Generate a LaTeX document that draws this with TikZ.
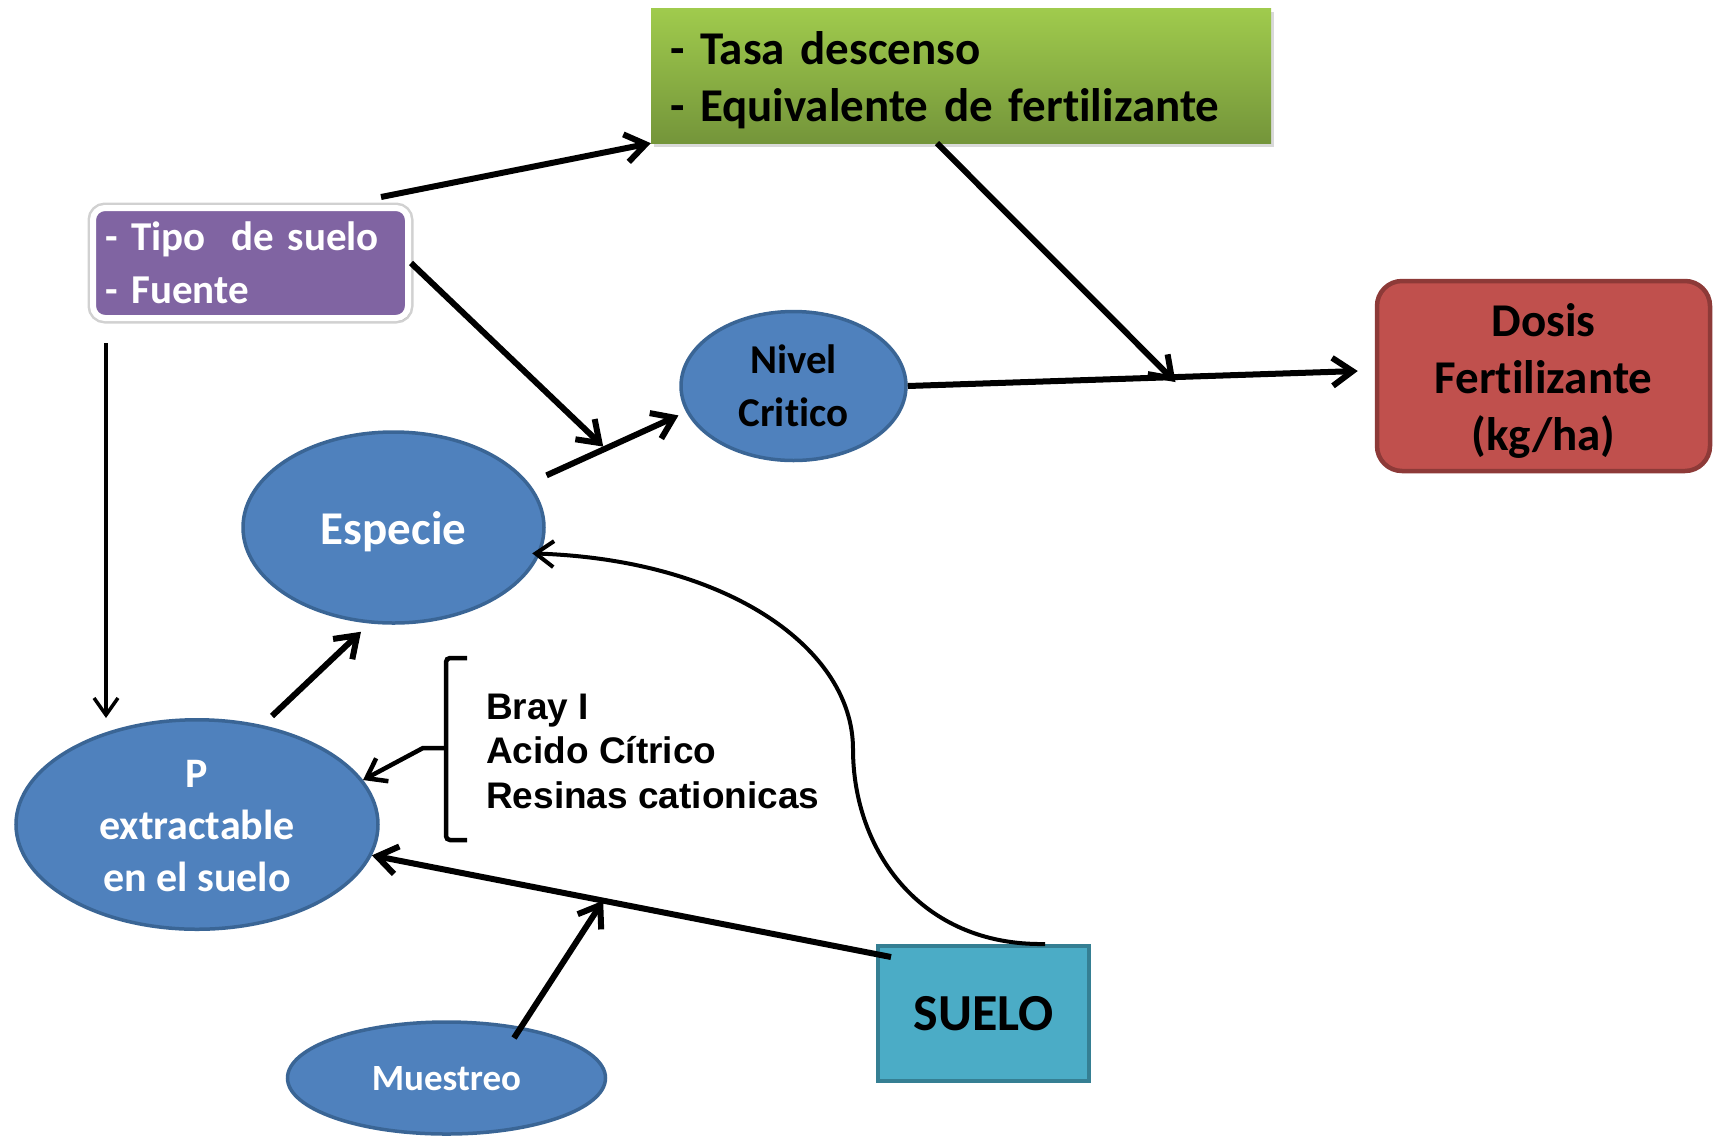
\documentclass[tikz,border=0pt]{standalone}
\usepackage{fontspec}
\setmainfont{Carlito}[RawFeature={-liga}]
\newfontfamily\arialfont{Liberation Sans}
\usetikzlibrary{arrows.meta,shapes.geometric,shadows,calc}

\definecolor{gtop}{HTML}{A0CB4D}
\definecolor{gbot}{HTML}{74953A}
\definecolor{purp}{HTML}{8064A2}
\definecolor{ellfill}{HTML}{4F81BD}
\definecolor{elldraw}{HTML}{3A6595}
\definecolor{suelofill}{HTML}{4BACC6}
\definecolor{suelodraw}{HTML}{357F93}
\definecolor{dosisfill}{HTML}{C0504D}
\definecolor{dosisdraw}{HTML}{8D3A38}

\begin{document}
\begin{tikzpicture}[x=1pt,y=-1pt,
  conn/.style={line width=6pt,-{Straight Barb[length=20pt,width=28pt]}},
  thinconn/.style={line width=3.5pt,-{Straight Barb[length=17pt,width=24pt]}},
  curveconn/.style={line width=4pt,-{Straight Barb[length=18pt,width=26pt]}},
  ell/.style={ellipse,fill=ellfill,draw=elldraw,line width=3.5pt,inner sep=0pt,align=center},
  softshadow/.style={drop shadow={opacity=0.3,shadow xshift=3pt,shadow yshift=-4pt}},
 ]
\useasboundingbox (0,0) rectangle (1715,1136);

% nodes
\node[minimum width=620pt, minimum height=135pt, text width=582pt,
      inner xsep=19pt, inner ysep=0pt, align=left,
      top color=gtop, bottom color=gbot, softshadow,
      font=\bfseries\fontsize{47}{57}\selectfont] (green) at (961,75.5)
  {\rule{0pt}{42pt}- Tasa descenso\\- Equivalente de fertilizante};

\node[rounded corners=12pt, fill=purp, draw=white, line width=6pt,
      preaction={draw=black!18, line width=11pt},
      minimum width=315pt, minimum height=110pt, text width=291pt,
      inner xsep=12pt, inner ysep=0pt, align=left, text=white,
      drop shadow={opacity=0.2,shadow xshift=2pt,shadow yshift=-3pt},
      font=\bfseries\fontsize{41}{52.5}\selectfont] (purple) at (250.5,263)
  {- Tipo\hspace{0.3em} de suelo\\- Fuente};

\node[ell, minimum width=225pt, minimum height=149pt, text=black,
      font=\bfseries\fontsize{41}{52.6}\selectfont] (nivel) at (793.5,386)
  {Nivel\\Critico};

\node[ell, minimum width=301pt, minimum height=191pt, text=white, text depth=0pt,
      font=\bfseries\fontsize{47}{57}\selectfont] (especie) at (393.5,527.5)
  {Especie};

\node[ell, minimum width=362pt, minimum height=209.5pt, text=white,
      font=\bfseries\fontsize{42}{52}\selectfont] (pext) at (197,824.5)
  {\rule{0pt}{31pt}P\\extractable\\en el suelo};

\node[ell, minimum width=318pt, minimum height=112pt, text=white, text depth=0pt,
      font=\bfseries\fontsize{37}{44}\selectfont] (muestreo) at (446.5,1078)
  {Muestreo};

\node[rectangle, fill=suelofill, draw=suelodraw, line width=4pt,
      minimum width=211pt, minimum height=135pt, text depth=0pt,
      font=\bfseries\fontsize{52}{60}\selectfont] (suelo) at (983.5,1013.5)
  {SUELO};

\node[rectangle, rounded corners=25pt, fill=dosisfill, draw=dosisdraw, line width=4.5pt,
      minimum width=333pt, minimum height=190pt, align=center,
      font=\bfseries\fontsize{47}{57}\selectfont] (dosis) at (1543.5,376)
  {\rule{0pt}{42pt}Dosis\\Fertilizante\\(kg/ha)};

% bracket list
\node[anchor=base west, inner sep=0pt, font=\arialfont\bfseries\fontsize{37}{45}\selectfont] (bray) at (486,719) {Bray I};
\node[anchor=base west, inner sep=0pt, font=\arialfont\bfseries\fontsize{37}{45}\selectfont] (acido) at (486,763) {Acido Cítrico};
\node[anchor=base west, inner sep=0pt, font=\arialfont\bfseries\fontsize{37}{45}\selectfont] (resinas) at (486,808) {Resinas cationicas};

\coordinate (btop) at (467,658);
\coordinate (bbot) at (467,840);
\coordinate (cusp) at (446,748);
\draw[line width=4.5pt, rounded corners=4pt] (btop) -- (446,658) -- (446,840) -- (bbot);
\draw[line width=4.5pt, -{Straight Barb[length=18pt,width=26pt]}] (cusp) -- (423,748) -- (pext.15);

% connectors
\coordinate (c1s) at ([shift={(-30,-8)}]purple.north east);
\draw[conn] (c1s) -- (green.south west);

\draw[conn] ([shift={(19,-6)}]especie.19) -- coordinate[pos=0.43] (m1) ([shift={(-9,1)}]nivel.195);
\draw[conn] (purple.east) -- ([yshift=3pt]m1);

\draw[conn] (nivel.east) -- coordinate[pos=0.595] (m2) ([shift={(-17,-5)}]dosis.west);
\draw[conn] ([xshift=-24pt]green.south) -- ([yshift=-5pt]m2);

\coordinate (c6s) at ([xshift=-144.5pt,yshift=-22pt]purple.south);
\draw[thinconn] (c6s) -- (c6s |- pext.north);

\draw[conn] ([xshift=75pt,yshift=2pt]pext.north) -- ([xshift=-32.5pt,yshift=-7pt]especie.south);

\draw[conn] ([shift={(15,13)}]suelo.north west) -- coordinate[pos=0.5545] (m3) (pext.-10);
\draw[conn] ([shift={(67.5,-40)}]muestreo.center) -- (m3);

\draw[curveconn] ([xshift=61.5pt]suelo.north) .. controls (920,946) and (853,850) .. (853,749)
   .. controls (853,650) and (730,560) .. ([xshift=-8pt]especie.-10);
\end{tikzpicture}
\end{document}
